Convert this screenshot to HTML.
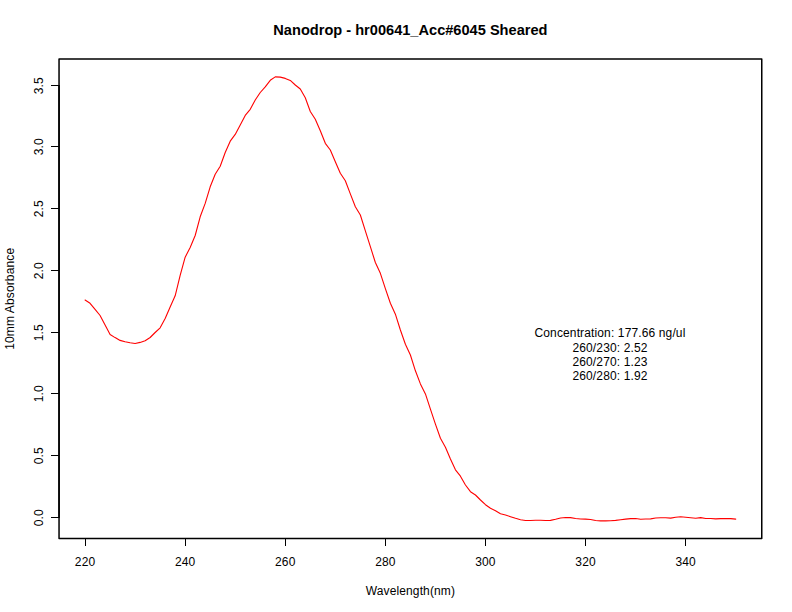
<!DOCTYPE html>
<html><head><meta charset="utf-8"><title>Nanodrop</title>
<style>
html,body{margin:0;padding:0;background:#fff;}
svg{display:block;}
text{font-family:"Liberation Sans",sans-serif;fill:#000;letter-spacing:0.13px;}
</style></head><body>
<svg width="792" height="612" viewBox="0 0 792 612">
<rect x="0" y="0" width="792" height="612" fill="#fff"/>
<polyline points="85.07,300.00 90.07,303.30 95.08,309.40 100.08,315.50 105.09,325.00 110.09,334.50 115.10,337.60 120.10,340.40 125.11,341.70 130.11,342.80 135.12,343.50 140.12,342.40 145.13,340.80 150.13,337.50 155.14,332.50 160.14,327.80 165.15,318.50 170.15,307.00 175.16,295.80 180.16,275.30 185.17,257.20 190.17,247.50 195.18,235.50 200.18,216.80 205.19,203.40 210.19,186.80 215.20,174.20 220.21,166.20 225.21,152.50 230.22,141.20 235.22,134.40 240.23,125.00 245.23,115.40 250.24,109.30 255.24,100.00 260.25,92.50 265.25,86.90 270.26,80.30 275.26,76.85 280.27,77.10 285.27,78.40 290.28,80.40 295.28,85.00 300.29,89.00 305.29,97.80 310.30,111.50 315.30,119.30 320.31,130.80 325.31,143.30 330.32,150.00 335.32,161.70 340.33,173.30 345.33,180.80 350.34,193.90 355.34,206.70 360.35,215.00 365.35,230.80 370.36,246.70 375.36,262.50 380.37,273.30 385.37,288.60 390.38,303.30 395.38,314.20 400.39,330.00 405.39,344.20 410.40,355.00 415.41,370.80 420.41,383.90 425.42,393.90 430.42,409.20 435.43,424.20 440.43,438.30 445.44,447.20 450.44,459.00 455.45,469.80 460.45,476.20 465.46,485.00 470.46,491.70 475.47,495.00 480.47,500.00 485.48,504.70 490.48,508.30 495.49,510.80 500.49,513.70 505.50,515.00 510.50,516.70 515.51,518.30 520.51,519.70 525.52,520.50 530.52,520.50 535.53,520.20 540.53,520.20 545.54,520.50 550.54,520.40 555.55,519.30 560.55,518.00 565.56,517.50 570.56,517.60 575.57,518.50 580.57,519.00 585.58,519.10 590.58,519.50 595.59,520.50 600.59,520.90 605.60,520.90 610.61,520.80 615.61,520.40 620.62,519.70 625.62,519.10 630.63,518.60 635.63,518.50 640.64,519.30 645.64,519.00 650.65,518.90 655.65,518.00 660.66,517.70 665.66,517.80 670.67,518.10 675.67,517.30 680.68,516.80 685.68,517.20 690.69,517.70 695.69,518.20 700.70,517.60 705.70,518.50 710.71,518.50 715.71,518.90 720.72,518.60 725.72,518.50 730.73,518.60 735.73,519.10" fill="none" stroke="#ff0000" stroke-width="1.1" stroke-linejoin="round" stroke-linecap="round"/>
<rect x="59.04" y="59.04" width="702.72" height="479.5199999999999" fill="none" stroke="#000" stroke-width="1.5" stroke-linejoin="round"/>
<rect x="85" y="538" width="601" height="1" fill="#000"/>
<rect x="85" y="538" width="1" height="8" fill="#000"/>
<rect x="185" y="538" width="1" height="8" fill="#000"/>
<rect x="285" y="538" width="1" height="8" fill="#000"/>
<rect x="385" y="538" width="1" height="8" fill="#000"/>
<rect x="485" y="538" width="1" height="8" fill="#000"/>
<rect x="585" y="538" width="1" height="8" fill="#000"/>
<rect x="685" y="538" width="1" height="8" fill="#000"/>
<text x="85.07" y="565.9" font-size="12" text-anchor="middle">220</text>
<text x="185.17" y="565.9" font-size="12" text-anchor="middle">240</text>
<text x="285.27" y="565.9" font-size="12" text-anchor="middle">260</text>
<text x="385.37" y="565.9" font-size="12" text-anchor="middle">280</text>
<text x="485.48" y="565.9" font-size="12" text-anchor="middle">300</text>
<text x="585.58" y="565.9" font-size="12" text-anchor="middle">320</text>
<text x="685.68" y="565.9" font-size="12" text-anchor="middle">340</text>
<rect x="58.3" y="85" width="1.5" height="433" fill="#000"/>
<rect x="51" y="517" width="8" height="1" fill="#000"/>
<rect x="51" y="455" width="8" height="1" fill="#000"/>
<rect x="51" y="393" width="8" height="1" fill="#000"/>
<rect x="51" y="332" width="8" height="1" fill="#000"/>
<rect x="51" y="270" width="8" height="1" fill="#000"/>
<rect x="51" y="208" width="8" height="1" fill="#000"/>
<rect x="51" y="146" width="8" height="1" fill="#000"/>
<rect x="51" y="85" width="8" height="1" fill="#000"/>
<text transform="translate(42.8 517.70) rotate(-90)" font-size="12" text-anchor="middle">0.0</text>
<text transform="translate(42.8 455.70) rotate(-90)" font-size="12" text-anchor="middle">0.5</text>
<text transform="translate(42.8 393.70) rotate(-90)" font-size="12" text-anchor="middle">1.0</text>
<text transform="translate(42.8 332.70) rotate(-90)" font-size="12" text-anchor="middle">1.5</text>
<text transform="translate(42.8 270.70) rotate(-90)" font-size="12" text-anchor="middle">2.0</text>
<text transform="translate(42.8 208.70) rotate(-90)" font-size="12" text-anchor="middle">2.5</text>
<text transform="translate(42.8 146.70) rotate(-90)" font-size="12" text-anchor="middle">3.0</text>
<text transform="translate(42.8 85.70) rotate(-90)" font-size="12" text-anchor="middle">3.5</text>
<text x="410.4" y="34.7" font-size="14.6" font-weight="bold" style="letter-spacing:0" text-anchor="middle">Nanodrop - hr00641_Acc#6045 Sheared</text>
<text x="410.4" y="594.9" font-size="12" text-anchor="middle">Wavelength(nm)</text>
<text transform="translate(14 298.8) rotate(-90)" font-size="12" text-anchor="middle">10mm Absorbance</text>
<text x="610" y="336.60" font-size="12" text-anchor="middle">Concentration: 177.66 ng/ul</text>
<text x="610" y="352.00" font-size="12" text-anchor="middle">260/230: 2.52</text>
<text x="610" y="366.00" font-size="12" text-anchor="middle">260/270: 1.23</text>
<text x="610" y="380.00" font-size="12" text-anchor="middle">260/280: 1.92</text>
</svg>
</body></html>
